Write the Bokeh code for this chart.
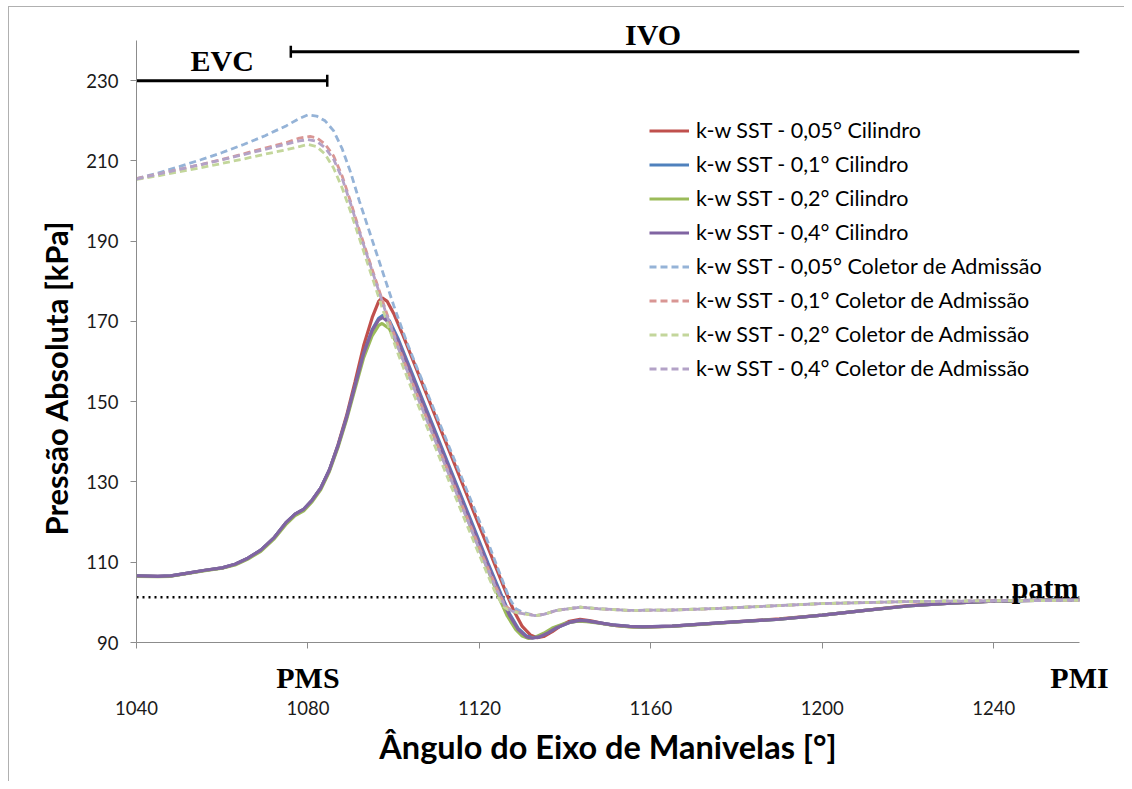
from bokeh.plotting import figure
from bokeh.models import Legend, LegendItem, Label, FixedTicker, Range1d, LinearAxis, Title
from bokeh.embed import file_html
from bokeh.resources import INLINE

# ---------------- data ----------------
x_ticks = [1040, 1080, 1120, 1160, 1200, 1240]
y_ticks = [90, 110, 130, 150, 170, 190, 210, 230]
marker_ticks = [1080, 1260]
marker_labels = {1080: "PMS", 1260: "PMI"}

patm = 101.3
evc_angle = 1084.5
ivo_angle = 1076.0

# Cylinder curves (solid)
cyl_005_x = [1040, 1045, 1048, 1052, 1056, 1060, 1063, 1066, 1069, 1072, 1075, 1077, 1079, 1081, 1083, 1085,
             1087, 1089, 1091, 1093, 1095, 1096.5, 1097.3, 1098.5, 1100, 1102, 1105, 1108, 1111, 1114, 1117,
             1120, 1123, 1126, 1128, 1130, 1132, 1133.5, 1135, 1137, 1139, 1141, 1143.5, 1146, 1149, 1152,
             1156, 1160, 1165, 1176, 1190, 1200, 1210, 1220, 1230, 1240, 1250, 1260]
cyl_005_y = [106.6, 106.5, 106.6, 107.3, 108.0, 108.6, 109.5, 111.0, 113.0, 116.0, 120.0, 122.0, 123.2, 125.5,
             128.5, 133.0, 139.2, 146.5, 155.0, 164.0, 171.0, 175.0, 175.9, 175.0, 172.0, 167.0, 159.0, 151.0,
             143.0, 135.0, 127.0, 119.0, 111.0, 103.0, 98.0, 94.0, 91.8, 91.2, 91.5, 92.7, 94.2, 95.3, 95.8,
             95.4, 94.7, 94.2, 93.9, 93.9, 94.1, 94.9, 95.9, 96.8, 98.0, 99.2, 99.8, 100.3, 100.5, 100.6]

cyl_01_x = [1040, 1045, 1048, 1052, 1056, 1060, 1063, 1066, 1069, 1072, 1075, 1077, 1079, 1081, 1083, 1085,
            1087, 1089, 1091, 1093, 1095, 1096.5, 1097.5, 1099, 1101, 1104, 1107, 1110, 1113, 1116, 1119,
            1122, 1125, 1127, 1129, 1131, 1132.5, 1134, 1136, 1138, 1141, 1143.5, 1145, 1148, 1151, 1155,
            1158, 1165, 1176, 1190, 1200, 1210, 1220, 1230, 1240, 1250, 1260]
cyl_01_y = [106.6, 106.5, 106.6, 107.3, 108.0, 108.6, 109.5, 111.0, 113.0, 116.0, 120.0, 122.0, 123.2, 125.5,
            128.5, 133.0, 139.0, 146.0, 154.0, 162.0, 168.0, 170.8, 171.5, 170.2, 165.8, 157.8, 149.8, 141.8,
            133.8, 125.8, 117.8, 109.8, 102.2, 97.2, 93.6, 91.6, 91.2, 91.4, 92.4, 93.7, 95.0, 95.5, 95.4,
            94.9, 94.4, 94.0, 93.9, 94.1, 94.9, 95.8, 96.8, 98.0, 99.1, 99.8, 100.3, 100.5, 100.6]

cyl_02_x = [1040, 1045, 1048, 1052, 1056, 1060, 1063, 1066, 1069, 1072, 1075, 1077, 1079, 1081, 1083, 1085,
            1087, 1089, 1091, 1093, 1095, 1096.5, 1097.3, 1099, 1101, 1104, 1107, 1110, 1113, 1116, 1119,
            1122, 1124.5, 1126.5, 1128.5, 1130, 1131.5, 1133, 1135, 1137, 1140, 1143, 1145, 1148, 1151,
            1155, 1158, 1165, 1176, 1190, 1200, 1210, 1220, 1230, 1240, 1250, 1260]
cyl_02_y = [106.5, 106.4, 106.5, 107.2, 107.9, 108.5, 109.3, 110.8, 112.7, 115.7, 119.6, 121.6, 122.8, 125.1,
            128.1, 132.6, 138.6, 145.5, 153.3, 161.0, 166.5, 169.0, 169.5, 168.2, 163.8, 156.0, 148.0, 140.0,
            132.0, 124.0, 116.0, 108.0, 101.4, 96.6, 93.2, 91.6, 91.0, 91.3, 92.3, 93.6, 94.8, 95.3, 95.2,
            94.8, 94.3, 93.9, 93.8, 94.0, 94.8, 95.8, 96.8, 98.0, 99.1, 99.8, 100.3, 100.5, 100.6]

cyl_04_x = [1040, 1045, 1048, 1052, 1056, 1060, 1063, 1066, 1069, 1072, 1075, 1077, 1079, 1081, 1083, 1085,
            1087, 1089, 1091, 1093, 1095, 1096.5, 1097.5, 1099, 1101, 1104, 1107, 1110, 1113, 1116, 1119,
            1122, 1125, 1127, 1129, 1131, 1132.3, 1134, 1136, 1138, 1141, 1143.5, 1145, 1148, 1151, 1155,
            1158, 1165, 1176, 1190, 1200, 1210, 1220, 1230, 1240, 1250, 1260]
cyl_04_y = [106.6, 106.5, 106.6, 107.3, 108.0, 108.6, 109.5, 111.0, 113.0, 116.0, 120.0, 122.0, 123.2, 125.5,
            128.5, 133.0, 139.0, 146.0, 154.0, 162.0, 167.8, 170.4, 171.0, 169.6, 165.2, 157.2, 149.2, 141.2,
            133.2, 125.2, 117.2, 109.2, 101.6, 96.8, 93.3, 91.4, 91.1, 91.4, 92.4, 93.7, 95.0, 95.5, 95.4,
            94.9, 94.4, 94.0, 93.9, 94.1, 94.9, 95.8, 96.8, 98.0, 99.1, 99.8, 100.3, 100.5, 100.6]

# Intake manifold curves (dashed)
col_005_x = [1040, 1045, 1050, 1055, 1060, 1065, 1070, 1075, 1078, 1080, 1082, 1084, 1086, 1088, 1090, 1092,
             1094, 1096, 1098, 1100, 1103, 1106, 1110, 1114, 1118, 1122, 1125, 1127, 1128.5, 1130, 1133,
             1135, 1138, 1143.5, 1148, 1155, 1165, 1176, 1190, 1200, 1220, 1240, 1260]
col_005_y = [205.6, 207.0, 208.6, 210.3, 212.1, 214.1, 216.3, 218.8, 220.6, 221.5, 221.2, 220.0, 217.5, 213.0,
             207.0, 200.0, 193.5, 187.0, 180.5, 174.0, 165.0, 157.0, 146.5, 136.0, 125.5, 115.0, 106.5,
             101.0, 98.4, 97.6, 96.7, 97.0, 98.0, 98.8, 98.4, 98.0, 98.1, 98.5, 99.2, 99.7, 100.2, 100.4, 100.5]

col_01_x = [1040, 1045, 1050, 1055, 1060, 1065, 1070, 1075, 1078, 1080.5, 1082, 1084, 1086, 1088, 1090, 1092,
            1094, 1096, 1098, 1101, 1105, 1109, 1113, 1117, 1121, 1124, 1126, 1127.5, 1129.5, 1133, 1135,
            1138, 1143.5, 1148, 1155, 1165, 1176, 1190, 1200, 1220, 1240, 1260]
col_01_y = [205.6, 206.7, 207.9, 209.1, 210.4, 211.8, 213.2, 214.6, 215.7, 216.1, 215.8, 214.2, 211.2, 206.2,
            199.7, 192.7, 186.2, 179.7, 173.2, 164.0, 153.0, 142.5, 132.0, 121.5, 111.0, 103.5, 99.2, 98.0,
            97.4, 96.7, 97.0, 98.0, 98.8, 98.4, 98.0, 98.1, 98.5, 99.2, 99.7, 100.2, 100.4, 100.5]

col_02_x = [1040, 1045, 1050, 1055, 1060, 1065, 1070, 1075, 1078, 1080, 1082, 1084, 1086, 1088, 1090, 1092,
            1094, 1096, 1098, 1101, 1105, 1109, 1113, 1117, 1121, 1123.5, 1125.5, 1127, 1129.5, 1133, 1135,
            1138, 1143.5, 1148, 1155, 1165, 1176, 1190, 1200, 1220, 1240, 1260]
col_02_y = [205.4, 206.3, 207.3, 208.3, 209.4, 210.5, 211.7, 212.8, 213.6, 214.1, 213.6, 211.7, 208.2, 203.2,
            197.2, 190.7, 184.2, 177.7, 171.2, 162.0, 151.0, 140.5, 130.0, 119.5, 109.2, 103.0, 99.0, 97.9,
            97.3, 96.7, 97.0, 98.0, 98.8, 98.4, 98.0, 98.1, 98.5, 99.2, 99.7, 100.2, 100.4, 100.5]

col_04_x = [1040, 1045, 1050, 1055, 1060, 1065, 1070, 1075, 1078, 1080, 1082, 1084, 1086, 1088, 1090, 1092,
            1094, 1096, 1098, 1101, 1105, 1109, 1113, 1117, 1121, 1124, 1126, 1127.5, 1129.5, 1133, 1135,
            1138, 1143.5, 1148, 1155, 1165, 1176, 1190, 1200, 1220, 1240, 1260]
col_04_y = [205.5, 206.7, 207.9, 209.1, 210.3, 211.6, 212.9, 214.2, 215.0, 215.3, 214.9, 213.3, 210.4, 205.6,
            199.2, 192.3, 185.8, 179.3, 172.8, 163.6, 152.6, 142.1, 131.6, 121.1, 110.6, 103.2, 99.0, 97.9,
            97.3, 96.7, 97.0, 98.0, 98.8, 98.4, 98.0, 98.1, 98.5, 99.2, 99.7, 100.2, 100.4, 100.5]

series_labels = [
    "k-w SST - 0,05° Cilindro",
    "k-w SST - 0,1° Cilindro",
    "k-w SST - 0,2° Cilindro",
    "k-w SST - 0,4° Cilindro",
    "k-w SST - 0,05° Coletor de Admissão",
    "k-w SST - 0,1° Coletor de Admissão",
    "k-w SST - 0,2° Coletor de Admissão",
    "k-w SST - 0,4° Coletor de Admissão",
]

# ---------------- figure ----------------
SANS = "Lato"
SERIF = "Liberation Serif"
AXIS_GREY = "#8c8c8c"

p = figure(frame_width=943, frame_height=626,
           min_border_left=127, min_border_right=45, min_border_top=9, min_border_bottom=139,
           x_range=Range1d(1040, 1260), y_range=Range1d(90, 246),
           output_backend="svg", toolbar_location=None,
           background_fill_color="white", border_fill_color="white",
           styles={"margin-left": "8px", "margin-top": "6px",
                   "border-left": "1px solid #b0b0b0", "border-top": "1px solid #b0b0b0"})
p.outline_line_color = None
p.xgrid.visible = False
p.ygrid.visible = False

# y axis
ya = p.yaxis[0]
ya.ticker = FixedTicker(ticks=y_ticks)
ya.bounds = (90, 240)
ya.axis_line_color = AXIS_GREY
ya.major_tick_line_color = AXIS_GREY
ya.minor_tick_line_color = None
ya.major_tick_in = 0
ya.major_tick_out = 6
ya.major_label_standoff = 12
ya.major_label_text_font = SANS
ya.major_label_text_font_size = "18.5px"
ya.major_label_text_color = "#1a1a1a"

# x axis 1: axis line, tick marks (as minor ticks) and PMS / PMI markers
xa = p.xaxis[0]
xa.ticker = FixedTicker(ticks=marker_ticks, minor_ticks=x_ticks)
xa.major_label_overrides = marker_labels
xa.axis_line_color = AXIS_GREY
xa.major_tick_line_color = None
xa.major_tick_in = 0
xa.major_tick_out = 6
xa.minor_tick_line_color = AXIS_GREY
xa.minor_tick_in = 0
xa.minor_tick_out = 6
xa.major_label_standoff = 12
xa.major_label_text_font = SERIF
xa.major_label_text_font_style = "bold"
xa.major_label_text_font_size = "30px"
xa.major_label_text_color = "black"

# x axis 2: numeric labels + title
xn = LinearAxis(ticker=FixedTicker(ticks=x_ticks))
xn.axis_line_color = None
xn.major_tick_line_color = None
xn.minor_tick_line_color = None
xn.major_tick_in = 0
xn.major_tick_out = 0
xn.major_label_standoff = 4
xn.major_label_text_font = SANS
xn.major_label_text_font_size = "18.5px"
xn.major_label_text_color = "#1a1a1a"
xn.axis_label = "Ângulo do Eixo de Manivelas [°]"
xn.axis_label_text_font = SANS
xn.axis_label_text_font_style = "bold"
xn.axis_label_text_font_size = "32.5px"
xn.axis_label_text_color = "black"
xn.axis_label_standoff = 9
p.add_layout(xn, "below")

# y title
p.add_layout(Title(text="Pressão Absoluta [kPa]", align="left", offset=107, standoff=18,
                   text_font=SANS, text_font_style="bold", text_font_size="31px",
                   text_color="black"), "left")

# patm line
p.line([1040, 1260], [patm, patm], line_color="black", line_width=2.5, line_dash="2 4")

cyl_colors = ["#C0504D", "#4F81BD", "#9BBB59", "#8064A2"]
col_colors = ["#95B3D7", "#D99694", "#C3D69B", "#B3A2C7"]

renderers = []
cyl_data = [(cyl_005_x, cyl_005_y), (cyl_01_x, cyl_01_y), (cyl_02_x, cyl_02_y), (cyl_04_x, cyl_04_y)]
col_data = [(col_005_x, col_005_y), (col_01_x, col_01_y), (col_02_x, col_02_y), (col_04_x, col_04_y)]
for (xs, ys), c in zip(cyl_data, cyl_colors):
    renderers.append(p.line(xs, ys, line_color=c, line_width=3.2))
for (xs, ys), c in zip(col_data, col_colors):
    renderers.append(p.line(xs, ys, line_color=c, line_width=2.8, line_dash="7 4"))

# EVC / IVO bars
evc_y = 230
ivo_y = 237.2
p.line([1040, evc_angle], [evc_y, evc_y], line_color="black", line_width=3)
p.line([evc_angle, evc_angle], [evc_y - 1.5, evc_y + 1.5], line_color="black", line_width=2.5)
p.line([ivo_angle, 1260], [ivo_y, ivo_y], line_color="black", line_width=3)
p.line([ivo_angle, ivo_angle], [ivo_y - 1.5, ivo_y + 1.5], line_color="black", line_width=2.5)

def ann(x, y, text, align="center", baseline="middle", x_offset=0):
    p.add_layout(Label(x=x, y=y, text=text, x_offset=x_offset, text_align=align, text_baseline=baseline,
                       text_font=SERIF, text_font_style="bold", text_font_size="30px",
                       text_color="black"))

ann(1060, 235.0, "EVC")
ann(1160.5, 241.5, "IVO")
ann(1260, 103.7, "patm", align="right", baseline="alphabetic", x_offset=-1)

legend = Legend(items=[LegendItem(label=l, renderers=[r]) for l, r in zip(series_labels, renderers)],
                location=(513, 261))
legend.border_line_alpha = 0
legend.background_fill_alpha = 0
legend.padding = 0
legend.margin = 0
legend.spacing = 8
legend.glyph_width = 40
legend.glyph_height = 25
legend.label_height = 25
legend.label_standoff = 7
legend.label_text_font = SANS
legend.label_text_font_size = "21.5px"
legend.label_text_color = "black"
p.add_layout(legend)

open("out.html", "w").write(file_html(p, INLINE))
